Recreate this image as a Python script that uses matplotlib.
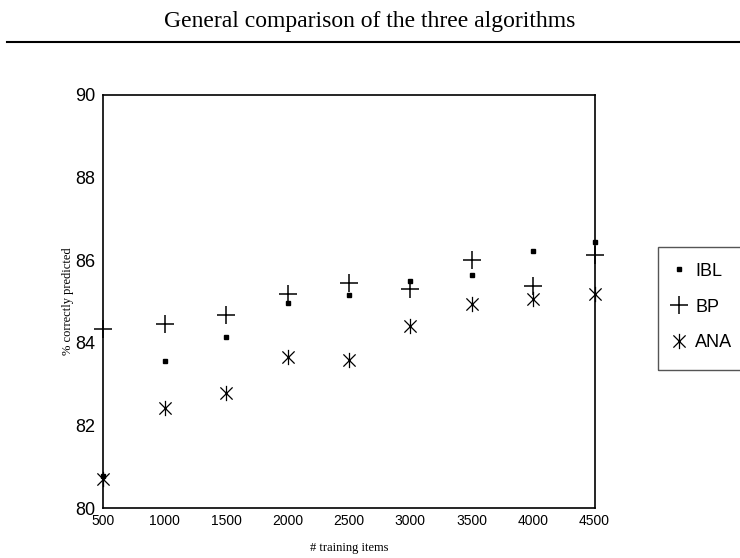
import numpy as np, matplotlib
matplotlib.use("Agg"); import matplotlib.pyplot as plt
from matplotlib.path import Path
from matplotlib.patches import Rectangle
from matplotlib.lines import Line2D

# data
n_items = [500, 1000, 1500, 2000, 2500, 3000, 3500, 4000, 4500]
ibl = [80.78, 83.55, 84.15, 84.96, 85.16, 85.49, 85.65, 86.23, 86.44]
bp  = [84.34, 84.45, 84.68, 85.17, 85.45, 85.29, 86.00, 85.37, 86.13]
ana = [80.70, 82.42, 82.79, 83.65, 83.58, 84.40, 84.93, 85.07, 85.18]
labels = ["IBL", "BP", "ANA"]
xticks = [500, 1000, 1500, 2000, 2500, 3000, 3500, 4000, 4500]
yticks = [80, 82, 84, 86, 88, 90]

SERIF = "Liberation Serif"; SANS = "Liberation Sans"

# asterisk: vertical bar + X
d = 0.8
star = Path([(0, -1), (0, 1), (-d, -d), (d, d), (-d, d), (d, -d)],
            [Path.MOVETO, Path.LINETO, Path.MOVETO, Path.LINETO, Path.MOVETO, Path.LINETO])

W, H = 740, 558
fig = plt.figure(figsize=(W/100, H/100), dpi=100)
l, r, t, b = 103.5, 594.5, 94.5, 508.3
ax = fig.add_axes([l/W, 1-b/H, (r-l)/W, (b-t)/H])

ax.plot(n_items, ibl, ls="none", marker="s", ms=3.2, color="k", label=labels[0], clip_on=False, zorder=3)
ax.plot(n_items, bp, ls="none", marker="+", ms=13, mew=1.1, color="k", label=labels[1], clip_on=False, zorder=3)
ax.plot(n_items, ana, ls="none", marker=star, ms=11, mew=0.9, color="k", label=labels[2], clip_on=False, zorder=3)

ax.set_xlim(500, 4500); ax.set_ylim(80, 90)
ax.set_xticks(xticks); ax.set_yticks(yticks)
ax.tick_params(length=0)
ax.tick_params(axis="x", pad=4, labelsize=10)
ax.tick_params(axis="y", pad=6, labelsize=13)
for lab in ax.get_xticklabels() + ax.get_yticklabels():
    lab.set_family(SANS)
for s in ax.spines.values():
    s.set_linewidth(1.2)
ax.set_xlabel("# training items", family=SERIF, fontsize=9, labelpad=10)
ax.set_ylabel("% correctly predicted", family=SERIF, fontsize=9, labelpad=0.5)

leg = ax.legend(loc="center left", bbox_to_anchor=(661/W, 1-307/H), bbox_transform=fig.transFigure,
                frameon=False, handlelength=1.2, handletextpad=0.3, labelspacing=1.05,
                borderaxespad=0, prop={"family": SANS, "size": 13})
fig.add_artist(Rectangle((658.3/W, 1-370.3/H), 0.2, (370.3-247.3)/H, transform=fig.transFigure,
                         fill=False, edgecolor="#555555", lw=1.0, clip_on=False))

fig.text(0.5, 1-22/H, "General comparison of the three algorithms", family=SERIF, fontsize=17,
         ha="center", va="center")
fig.add_artist(Line2D([7/W, 1.0], [1-41.7/H]*2, transform=fig.transFigure, color="k", lw=1.5))

fig.savefig("out.png", dpi=100)
